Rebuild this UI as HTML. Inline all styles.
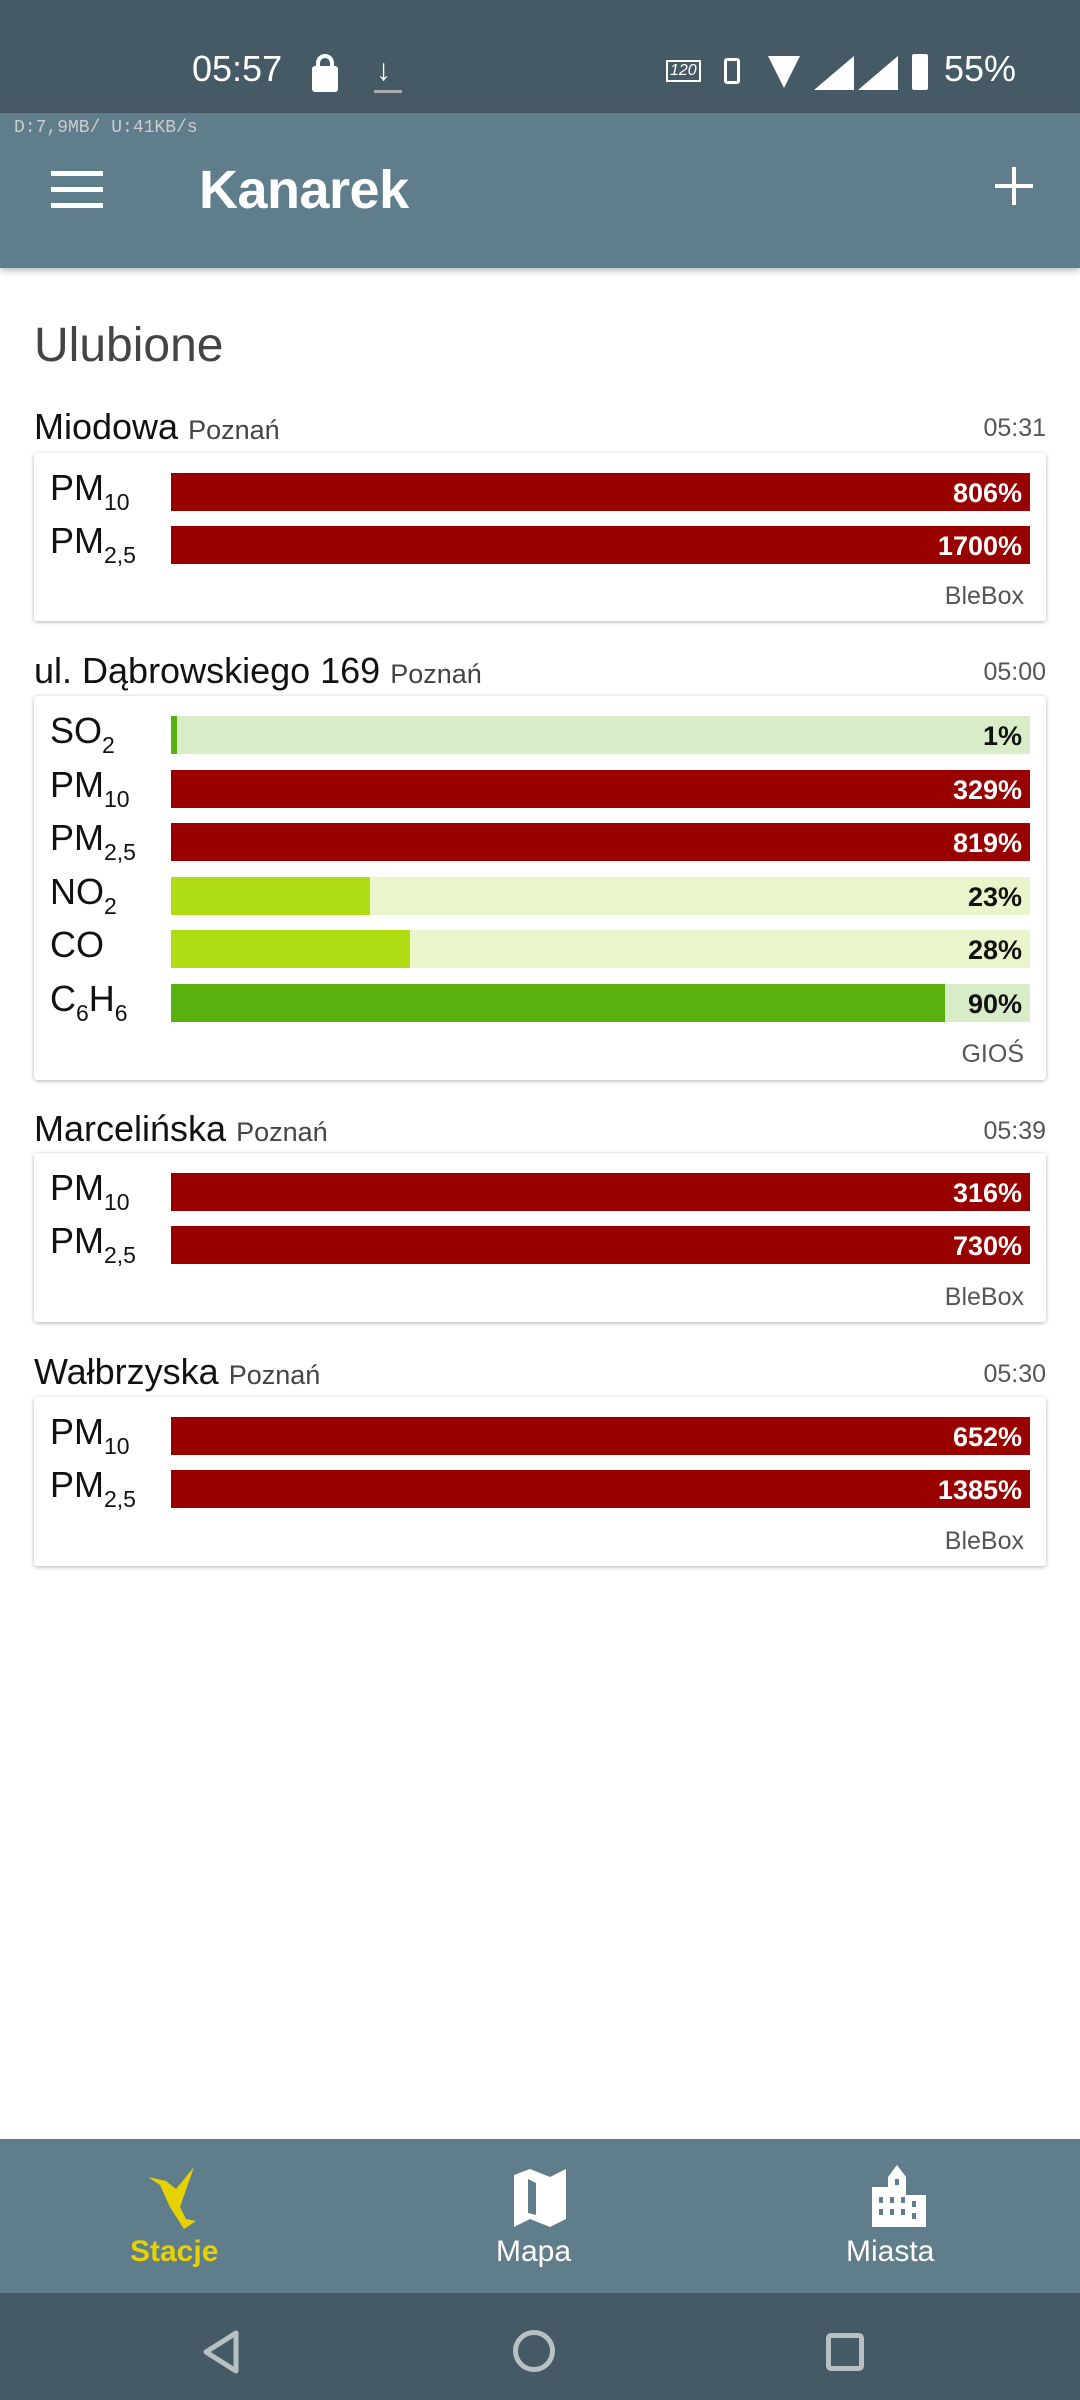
<!DOCTYPE html>
<html><head><meta charset="utf-8"><style>
*{margin:0;padding:0;box-sizing:border-box}
body{width:1080px;height:2400px;position:relative;background:#fff;font-family:"Liberation Sans",sans-serif;overflow:hidden}
.abs{position:absolute}
.status{left:0;top:0;width:1080px;height:113px;background:#465a65;color:#fff}
.appbar{left:0;top:113px;width:1080px;height:155px;background:#607d8b;box-shadow:0 3px 6px rgba(0,0,0,.25)}
.title{font-size:36px;color:#111;white-space:nowrap}
.title small{font-size:27px;color:#444}
.time{font-size:25px;color:#555;right:34px}
.card{left:34px;width:1012px;background:#fff;box-shadow:0 1px 4px rgba(0,0,0,.3);border-radius:3px}
.lab{left:16px;font-size:36px;color:#111;white-space:nowrap}
.lab sub{font-size:23px;vertical-align:-10px}
.bar{left:137px;width:859px;height:38px}
.bar .f{position:absolute;left:0;top:0;height:38px}
.bar span{position:absolute;right:8px;top:5px;font-size:27px;font-weight:bold}
.src{right:22px;font-size:25px;color:#555}
</style></head><body>
<div class="abs status">
 <div class="abs" style="left:192px;top:48px;font-size:36px">05:57</div>
 <div class="abs" style="left:312px;top:66px;width:26px;height:26px;background:#fff;border-radius:3px"></div>
 <div class="abs" style="left:316px;top:54px;width:18px;height:16px;border:4px solid #fff;border-bottom:none;border-radius:9px 9px 0 0"></div>
 <div class="abs" style="left:376px;top:54px;font-size:30px;font-weight:bold">↓</div>
 <div class="abs" style="left:374px;top:90px;width:28px;height:3px;background:#aaa"></div>
 <div class="abs" style="left:666px;top:60px;font-size:16px;border:2px solid #fff;padding:0 2px;font-style:italic">120</div>
 <div class="abs" style="left:724px;top:58px;width:16px;height:26px;border:3px solid #fff;border-radius:3px"></div>
 <div class="abs" style="left:768px;top:56px;width:0;height:0;border-left:16px solid transparent;border-right:16px solid transparent;border-top:32px solid #fff"></div>
 <div class="abs" style="left:814px;top:56px;width:40px;height:34px;background:#fff;clip-path:polygon(100% 0,100% 100%,0 100%)"></div>
 <div class="abs" style="left:858px;top:56px;width:40px;height:34px;background:#fff;clip-path:polygon(100% 0,100% 100%,0 100%)"></div>
 <div class="abs" style="left:912px;top:54px;width:16px;height:36px;background:#fff;border-radius:2px"></div>
 <div class="abs" style="left:944px;top:48px;font-size:36px">55%</div>
</div>
<div class="abs appbar">
 <div class="abs" style="left:14px;top:5px;font-size:18px;color:#ccc;font-family:'Liberation Mono',monospace">D:7,9MB/ U:41KB/s</div>
 <div class="abs" style="left:51px;top:58px;width:52px;height:5px;background:#fff;box-shadow:0 16px 0 #fff,0 32px 0 #fff"></div>
 <div class="abs" style="left:199px;top:46px;font-size:54px;color:#fff;font-weight:bold;letter-spacing:-0.5px">Kanarek</div>
 <div class="abs" style="left:995px;top:71px;width:38px;height:4px;background:#fff"></div>
 <div class="abs" style="left:1012px;top:54px;width:4px;height:38px;background:#fff"></div>
</div>
<div class="abs" style="left:34px;top:318px;font-size:48px;color:#444">Ulubione</div>

<div class="abs title" style="left:34px;top:406px">Miodowa <small>Poznań</small></div>
<div class="abs time" style="top:414px">05:31</div>
<div class="abs card" style="top:453px;height:168px">
 <div class="abs lab" style="top:14px">PM<sub>10</sub></div>
 <div class="abs bar" style="top:20px;background:#990000"><span style="color:#fff">806%</span></div>
 <div class="abs lab" style="top:67px">PM<sub>2,5</sub></div>
 <div class="abs bar" style="top:73px;background:#990000"><span style="color:#fff">1700%</span></div>
 <div class="abs src" style="top:129px">BleBox</div>
</div>

<div class="abs title" style="left:34px;top:650px">ul. Dąbrowskiego 169 <small>Poznań</small></div>
<div class="abs time" style="top:658px">05:00</div>
<div class="abs card" style="top:696px;height:384px">
 <div class="abs lab" style="top:14px">SO<sub>2</sub></div>
 <div class="abs bar" style="top:20px;background:#d8ecc8"><div class="f" style="width:6px;background:#5ab00e"></div><span style="color:#111">1%</span></div>
 <div class="abs lab" style="top:68px">PM<sub>10</sub></div>
 <div class="abs bar" style="top:74px;background:#990000"><span style="color:#fff">329%</span></div>
 <div class="abs lab" style="top:121px">PM<sub>2,5</sub></div>
 <div class="abs bar" style="top:127px;background:#990000"><span style="color:#fff">819%</span></div>
 <div class="abs lab" style="top:175px">NO<sub>2</sub></div>
 <div class="abs bar" style="top:181px;background:#ebf5cb"><div class="f" style="width:199px;background:#b0dc14"></div><span style="color:#111">23%</span></div>
 <div class="abs lab" style="top:228px">CO</div>
 <div class="abs bar" style="top:234px;background:#ebf5cb"><div class="f" style="width:239px;background:#b0dc14"></div><span style="color:#111">28%</span></div>
 <div class="abs lab" style="top:282px">C<sub>6</sub>H<sub>6</sub></div>
 <div class="abs bar" style="top:288px;background:#d8ecc8"><div class="f" style="width:774px;background:#5ab00e"></div><span style="color:#111">90%</span></div>
 <div class="abs src" style="top:344px">GIOŚ</div>
</div>

<div class="abs title" style="left:34px;top:1108px">Marcelińska <small>Poznań</small></div>
<div class="abs time" style="top:1117px">05:39</div>
<div class="abs card" style="top:1153px;height:169px">
 <div class="abs lab" style="top:14px">PM<sub>10</sub></div>
 <div class="abs bar" style="top:20px;background:#990000"><span style="color:#fff">316%</span></div>
 <div class="abs lab" style="top:67px">PM<sub>2,5</sub></div>
 <div class="abs bar" style="top:73px;background:#990000"><span style="color:#fff">730%</span></div>
 <div class="abs src" style="top:130px">BleBox</div>
</div>

<div class="abs title" style="left:34px;top:1351px">Wałbrzyska <small>Poznań</small></div>
<div class="abs time" style="top:1360px">05:30</div>
<div class="abs card" style="top:1397px;height:169px">
 <div class="abs lab" style="top:14px">PM<sub>10</sub></div>
 <div class="abs bar" style="top:20px;background:#990000"><span style="color:#fff">652%</span></div>
 <div class="abs lab" style="top:67px">PM<sub>2,5</sub></div>
 <div class="abs bar" style="top:73px;background:#990000"><span style="color:#fff">1385%</span></div>
 <div class="abs src" style="top:130px">BleBox</div>
</div>

<div class="abs" style="left:0;top:2139px;width:1080px;height:154px;background:#607d8b">
 <svg class="abs" style="left:146px;top:28px" width="70" height="64" viewBox="0 0 70 64"><polygon points="2,10 14,18 24,40 38,62 50,54 40,52 34,40 48,0 30,22 20,14" fill="#e6d200"/></svg>
 <div class="abs" style="left:130px;top:96px;font-size:30px;color:#e6d200;font-weight:bold">Stacje</div>
 <svg class="abs" style="left:514px;top:30px" width="52" height="58" viewBox="0 0 52 58"><polygon points="0,6 16,0 36,8 52,0 52,50 36,58 16,50 0,58" fill="#fff"/><polygon points="14,10 22,14 22,46 14,44" fill="#607d8b"/></svg>
 <div class="abs" style="left:496px;top:96px;font-size:30px;color:#fff">Mapa</div>
 <svg class="abs" style="left:872px;top:26px" width="54" height="62" viewBox="0 0 54 62"><polygon points="0,22 16,22 16,12 25,0 34,12 34,30 54,30 54,62 0,62" fill="#fff"/><g fill="#607d8b"><rect x="7" y="32" width="4" height="6"/><rect x="18" y="32" width="4" height="6"/><rect x="29" y="32" width="4" height="6"/><rect x="40" y="36" width="4" height="6"/><rect x="7" y="44" width="4" height="6"/><rect x="18" y="44" width="4" height="6"/><rect x="29" y="44" width="4" height="6"/><rect x="40" y="48" width="4" height="6"/><rect x="23" y="14" width="4" height="6"/></g></svg>
 <div class="abs" style="left:846px;top:96px;font-size:30px;color:#fff">Miasta</div>
</div>
<div class="abs" style="left:0;top:2293px;width:1080px;height:107px;background:#465a65">
 <svg class="abs" style="left:200px;top:36px" width="40" height="46"><polygon points="36,4 36,42 6,23" fill="none" stroke="#b8c0c4" stroke-width="5" stroke-linejoin="round"/></svg>
 <div class="abs" style="left:513px;top:37px;width:42px;height:42px;border:5px solid #b8c0c4;border-radius:50%"></div>
 <div class="abs" style="left:826px;top:40px;width:38px;height:38px;border:5px solid #b8c0c4;border-radius:5px"></div>
</div>
</body></html>
